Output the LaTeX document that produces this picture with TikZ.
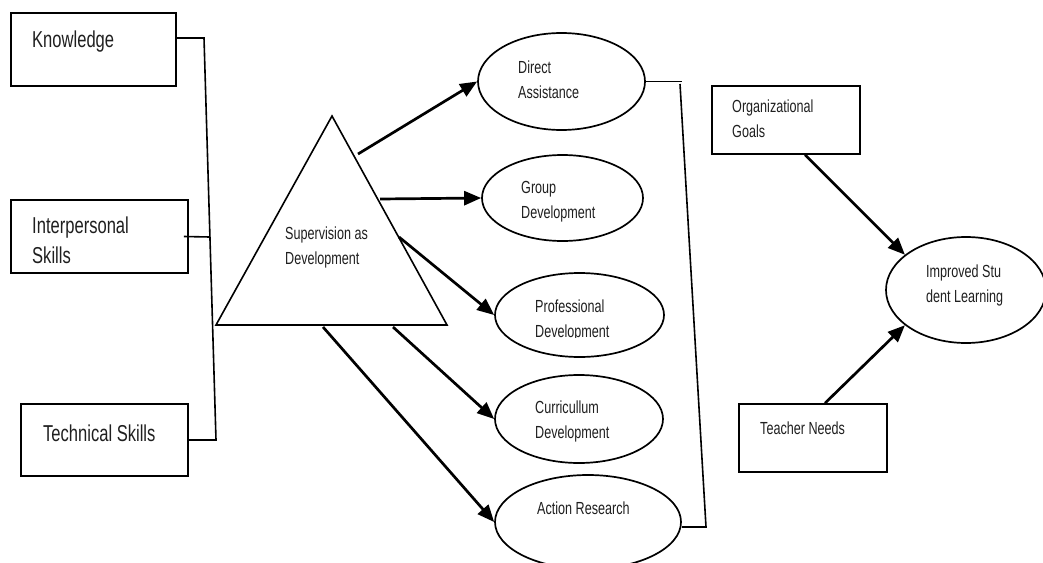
\documentclass[tikz,border=0pt]{standalone}
\usepackage{fontspec}
\setmainfont[FakeStretch=0.72]{Liberation Sans}
\usetikzlibrary{shapes.geometric,arrows.meta}
\newcommand\bigtxt{\fontsize{23}{30}\selectfont}
\newcommand\smalltxt{\fontsize{17.5}{24.5}\selectfont}
\tikzset{
  box/.style={draw, line width=1.7pt, inner sep=0pt},
  oval/.style={draw, ellipse, line width=1.7pt, inner sep=0pt},
  lbl/.style={anchor=base west, inner sep=0pt, align=left, text=black!88},
  link/.style={line width=1.6pt},
  arr/.style={line width=2.7pt, -{Triangle[length=17pt,width=14pt]}}
}
\begin{document}
\begin{tikzpicture}[x=1pt,y=-1pt]
\path[use as bounding box] (0,0) rectangle (1043,562);
\clip (0,0) rectangle (1043,562);

\node[box, minimum width=165pt, minimum height=73pt] (KN) at (93.5,49.5) {};
\node[box, minimum width=177pt, minimum height=73pt] (IS) at (99.5,236.5) {};
\node[box, minimum width=167pt, minimum height=72pt] (TS) at (104.5,440) {};
\node[lbl, font=\bigtxt] (KNt) at (32,47) {Knowledge};
\begin{scope}
  \clip (11,200) rectangle (188,264);
  \node[lbl, font=\bigtxt] (ISt) at (32,263) {Interpersonal\\Skills};
\end{scope}
\node[lbl, font=\bigtxt] (TSt) at (43,441) {Technical Skills};

\coordinate (j1) at (204,38);
\coordinate (j2) at (216,440);
\coordinate (j3) at (210,237);
\draw[link] ([yshift=11.5pt]KN.east) -- (j1) -- (j2) -- (TS.east);
\draw[link] ([xshift=-5pt]IS.east) -- (j3);

\coordinate (apex) at (332,116);
\coordinate (bl) at (216,325);
\coordinate (br) at (447,325);
\draw[link] (apex) -- (br) -- (bl) -- cycle;
\node[lbl, font=\smalltxt] (SDt) at (285,264) {Supervision as\\Development};

\node[oval, minimum width=167pt, minimum height=97pt] (DA) at (561.5,81.5) {};
\node[oval, minimum width=161pt, minimum height=86pt] (GD) at (562.5,198) {};
\node[oval, minimum width=169pt, minimum height=84pt] (PD) at (579.5,315) {};
\node[oval, minimum width=168pt, minimum height=88pt] (CD) at (579,419) {};
\node[oval, minimum width=186pt, minimum height=94pt] (AR) at (588,522) {};
\node[lbl, font=\smalltxt] (DAt) at (518,98) {Direct\\Assistance};
\node[lbl, font=\smalltxt] (GDt) at (521,218) {Group\\Development};
\begin{scope}
  \clip (495,273) rectangle (664,337);
  \node[lbl, font=\smalltxt] (PDt) at (535,337) {Professional\\Development};
\end{scope}
\node[lbl, font=\smalltxt] (CDt) at (535,438) {Curricullum\\Development};
\node[lbl, font=\smalltxt] (ARt) at (537,514) {Action Research};

\coordinate (s1) at (358,154);
\coordinate (s2) at (380,199);
\coordinate (s3) at (399,237);
\coordinate (s4) at (393,327);
\coordinate (s5) at (323,327);
\draw[arr] (s1) -- (DA.west);
\draw[arr] (s2) -- (GD.west);
\draw[arr] (s3) -- (PD.west);
\draw[arr] (s4) -- (CD.west);
\draw[arr] (s5) -- (AR.west);

\coordinate (r1) at (680,84);
\coordinate (r2) at (706,527);
\draw[link] (DA.east) -- ++(36,0);
\draw[link] (r1) -- (r2) -- (r2 -| AR.east);

\node[box, minimum width=148pt, minimum height=68pt] (OG) at (786,120) {};
\node[box, minimum width=148pt, minimum height=68pt] (TN) at (813,438) {};
\node[oval, minimum width=160pt, minimum height=106pt] (SL) at (966,290) {};
\node[lbl, font=\smalltxt] (OGt) at (732,137) {Organizational\\Goals};
\node[lbl, font=\smalltxt] (TNt) at (760,434) {Teacher Needs};
\node[lbl, font=\smalltxt] (SLt) at (926,302) {Improved Stu\\dent Learning};
\draw[arr] ([xshift=19pt]OG.south) -- (SL.150);
\draw[arr] ([xshift=12pt]TN.north) -- (SL.210);
\end{tikzpicture}
\end{document}
